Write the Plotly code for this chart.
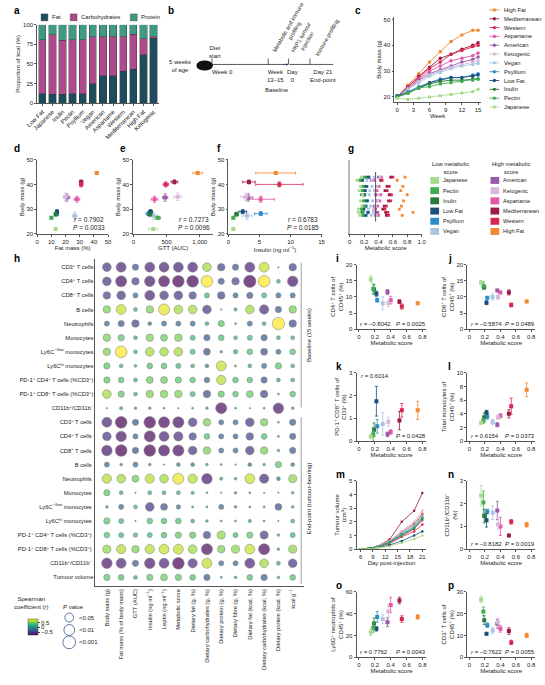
import plotly.graph_objects as go

W, H = 545, 685
FONT = "Liberation Sans"
def X(px): return px / W
def Y(py): return 1 - py / H

# ---------------- DATA ----------------
diets = ["High Fat", "Mediterranean", "Western", "Aspartame", "American", "Ketogenic",
         "Vegan", "Psyllium", "Low Fat", "Inulin", "Pectin", "Japanese"]
colors = {"High Fat": "#f5872e", "Mediterranean": "#9b1b45", "Western": "#d7264f",
          "Aspartame": "#e257a8", "American": "#9a5aa8", "Ketogenic": "#d9b8da",
          "Vegan": "#aac4e4", "Psyllium": "#2f8cc8", "Low Fat": "#1b4e7c",
          "Inulin": "#2a7a3a", "Pectin": "#41ad4f", "Japanese": "#a8da8c"}

# a
a_diets = ["Low Fat", "Japanese", "Inulin", "Pectin", "Psyllium", "Vegan", "American",
           "Aspartame", "Western", "Mediterranean", "High Fat", "Ketogenic"]
a_fat = [12, 11, 11, 12, 12, 25, 35, 35, 41, 43, 62, 83]
a_carb = [69, 76, 69, 69, 69, 60, 50, 50, 44, 45, 20, 2]
a_prot = [19, 13, 20, 19, 19, 15, 15, 15, 15, 12, 18, 15]

# c
weeks = [0, 2, 4, 6, 8, 10, 12, 14, 15]
c_mass = {
    "High Fat": [20, 24.5, 29, 33.5, 37.5, 41.5, 44, 45.8, 45.8],
    "Mediterranean": [20, 24, 28, 31.5, 35, 36.5, 38.5, 40, 41],
    "Western": [20, 24, 27.5, 31, 33.5, 36.5, 38, 39.5, 40],
    "Aspartame": [20, 23.5, 27, 30, 32, 34, 35, 36, 37],
    "American": [20, 23, 26.5, 29, 30.5, 32, 33.5, 34.5, 35.5],
    "Ketogenic": [20, 23, 26, 28.5, 30, 31.5, 32.5, 33.5, 34],
    "Vegan": [20, 23, 25.5, 28, 29.5, 31, 32, 32.5, 33],
    "Psyllium": [20.5, 22, 24, 25.5, 27, 27.5, 27.5, 28.5, 29],
    "Low Fat": [20.5, 21.5, 23.5, 25.5, 26.5, 27.5, 27.5, 28, 28.5],
    "Inulin": [20, 21.5, 23.5, 25, 26, 26.5, 26.5, 27, 27],
    "Pectin": [20, 21.5, 23.5, 24, 25, 25.5, 26, 26.5, 27],
    "Japanese": [19.5, 19, 19.5, 20, 20.5, 21, 21.5, 22, 23],
}

# per-diet values (order = diets)
body_mass = [44.6, 41, 40, 34, 34.7, 35, 27.3, 28.2, 29, 28, 26.5, 22]
fat_mass = [42, 31, 31, 28, 21, 20, 26.5, 14, 14, 13, 10, 13]
gtt = [970, 620, 490, 320, 480, 670, 300, 230, 260, 250, 370, 300]
gtt_err = [70, 50, 40, 50, 40, 60, 60, 40, 30, 30, 40, 70]
insulin = [7.6, 3.3, 8.2, 5.2, 3.2, 2.8, 3.0, 5.2, 2.3, 1.3, 0.8, 0.8]
insulin_err = [3.2, 1.0, 3.8, 2.2, 0.7, 0.8, 0.8, 1.0, 0.6, 0.3, 0.2, 0.2]
mscore = [0.74, 0.51, 0.54, 0.40, 0.36, 0.37, 0.30, 0.23, 0.22, 0.19, 0.18, 0.15]
i_cd4 = [8, 8.5, 7, 9, 11.5, 8, 8, 9, 11, 12.3, 12.5, 15.5]
i_err = [0.4, 0.6, 0.8, 1.2, 0.8, 1.0, 2.0, 0.6, 0.8, 1.5, 1.5, 1.0]
j_cd8 = [8.6, 11.4, 7.5, 11.4, 12, 10, 10, 9.7, 8.2, 13, 13.5, 14.5]
j_err = [0.4, 0.8, 0.6, 0.4, 0.4, 0.8, 1.0, 0.4, 0.6, 0.6, 1.2, 0.6]
k_pd1 = [1.35, 0.9, 1.35, 0.4, 0.3, 0.85, 0.75, 0.65, 1.75, 0.5, 0.3, 0.2]
k_err = [0.4, 0.4, 0.3, 0.1, 0.1, 0.2, 0.5, 0.3, 0.65, 0.3, 0.3, 0.1]
l_mono = [7.5, 4.0, 5.1, 3.7, 2.4, 3.5, 2.8, 3.6, 4.2, 3.5, 3.0, 2.7]
l_err = [1.0, 0.6, 1.2, 0.3, 0.3, 0.3, 0.4, 0.4, 0.3, 0.6, 0.4, 0.2]
n_cd11 = [1.07, 0.6, 1.2, 1.0, 1.7, 1.08, 1.6, 1.65, 1.27, 1.45, 2.05, 2.35]
n_err = [0.1, 0.05, 0.1, 0.4, 0.4, 0.2, 0.3, 0.1, 0.3, 0.3, 0.5, 0.45]
o_ly6g = [37, 52, 35, 48, 32, 42, 35, 37, 26, 31, 27, 23]
o_err = [2, 3, 3, 7, 4, 5, 4, 5, 2, 5, 4, 3]
p_cd3 = [10, 12, 6.8, 13, 15.3, 16, 12.2, 14.7, 10.8, 17, 21, 26.5]
p_err = [1, 1.5, 1, 1.5, 2, 2, 1.5, 1, 0.5, 2, 2, 1.5]

# g swarm (hand-read approximate positions)
g_x = {
    "Japanese": [0.10, 0.12, 0.13, 0.14, 0.15, 0.15, 0.16, 0.17, 0.18, 0.12],
    "Pectin": [0.14, 0.16, 0.17, 0.18, 0.18, 0.19, 0.20, 0.21, 0.16, 0.19],
    "Inulin": [0.15, 0.17, 0.18, 0.19, 0.20, 0.21, 0.22, 0.18, 0.20, 0.17],
    "Low Fat": [0.17, 0.19, 0.21, 0.22, 0.23, 0.24, 0.26, 0.22, 0.20, 0.25],
    "Psyllium": [0.18, 0.20, 0.22, 0.23, 0.24, 0.25, 0.27, 0.23, 0.21, 0.26],
    "Vegan": [0.24, 0.26, 0.28, 0.30, 0.31, 0.32, 0.34, 0.29, 0.27, 0.33],
    "American": [0.30, 0.33, 0.35, 0.36, 0.37, 0.38, 0.40, 0.34, 0.36, 0.39],
    "Ketogenic": [0.31, 0.33, 0.35, 0.37, 0.38, 0.39, 0.42, 0.36, 0.40, 0.34],
    "Aspartame": [0.34, 0.36, 0.38, 0.40, 0.41, 0.42, 0.44, 0.39, 0.43, 0.37],
    "Mediterranean": [0.43, 0.46, 0.49, 0.51, 0.52, 0.54, 0.57, 0.48, 0.55, 0.50],
    "Western": [0.45, 0.49, 0.52, 0.54, 0.55, 0.57, 0.60, 0.51, 0.58, 0.53],
    "High Fat": [0.66, 0.69, 0.71, 0.73, 0.74, 0.75, 0.77, 0.72, 0.80, 0.88],
}
g_y = [0.8, -0.6, 0.3, -0.9, 0.5, -0.2, 0.95, -0.45, 0.1, -0.75]

# m tumour volume
m_days = [6, 8, 10, 13, 16, 19, 21]
m_vol = {
    "High Fat": [0, 0.05, 0.2, 0.6, 1.3, 1.9, 2.6],
    "Mediterranean": [0, 0.05, 0.2, 0.7, 2.0, 2.8, 4.1],
    "Western": [0, 0.05, 0.15, 0.4, 0.9, 1.3, 1.8],
    "Aspartame": [0, 0.05, 0.15, 0.45, 1.0, 1.5, 2.1],
    "American": [0, 0.05, 0.2, 0.55, 1.2, 1.8, 2.5],
    "Ketogenic": [0, 0.05, 0.2, 0.6, 1.3, 2.0, 2.8],
    "Vegan": [0, 0.05, 0.15, 0.5, 1.1, 1.7, 2.4],
    "Psyllium": [0, 0.05, 0.15, 0.5, 1.1, 1.6, 2.3],
    "Low Fat": [0, 0.03, 0.1, 0.3, 0.6, 1.0, 1.3],
    "Inulin": [0, 0.05, 0.15, 0.5, 1.0, 1.5, 2.2],
    "Pectin": [0, 0.05, 0.15, 0.45, 1.0, 1.6, 2.3],
    "Japanese": [0, 0.02, 0.08, 0.2, 0.45, 0.75, 1.0],
}

# h
h_cols = ["Body mass (g)", "Fat mass (% of body mass)", "GTT (AUC)", "Insulin (ng ml<sup>−1</sup>)",
          "Leptin (ng ml<sup>−1</sup>)", "Metabolic score", "Dietary fat (g, %)",
          "Dietary carbohydrates (g, %)", "Dietary protein (g, %)", "Dietary fibre (g, %)",
          "Dietary fat (kcal, %)", "Dietary carbohydrates (kcal, %)", "Dietary protein (kcal, %)",
          "kcal g<sup>−1</sup>"]
h_rows = ["CD3<sup>+</sup> T cells", "CD4<sup>+</sup> T cells", "CD8<sup>+</sup> T cells", "B cells",
          "Neutrophils", "Monocytes", "Ly6C<sup>−/low</sup> monocytes", "Ly6C<sup>hi</sup> monocytes",
          "PD-1<sup>+</sup> CD4<sup>+</sup> T cells (%CD3<sup>+</sup>)",
          "PD-1<sup>+</sup> CD8<sup>+</sup> T cells (%CD3<sup>+</sup>)", "CD11b<sup>+</sup>/CD11b<sup>−</sup>",
          "CD3<sup>+</sup> T cells ", "CD4<sup>+</sup> T cells ", "CD8<sup>+</sup> T cells ", "B cells ",
          "Neutrophils ", "Monocytes ", "Ly6C<sup>−/low</sup> monocytes ", "Ly6C<sup>hi</sup> monocytes ",
          "PD-1<sup>+</sup> CD4<sup>+</sup> T cells (%CD3<sup>+</sup>) ",
          "PD-1<sup>+</sup> CD8<sup>+</sup> T cells (%CD3<sup>+</sup>) ", "CD11b<sup>+</sup>/CD11b<sup>−</sup> ",
          "Tumour volume"]
h_r = [
    [-0.6, -0.7, -0.4, -0.7, -0.7, -0.7, -0.7, 0.6, -0.5, -0.4, -0.7, 0.7, 0.0, -0.5],
    [-0.6, -0.8, -0.5, -0.75, -0.8, -0.85, -0.85, 0.85, -0.4, -0.5, -0.9, 0.85, 0.2, -0.75],
    [-0.5, -0.6, -0.3, -0.7, -0.6, -0.6, -0.5, 0.3, -0.5, -0.3, -0.4, 0.3, -0.3, -0.3],
    [0.5, 0.7, 0.2, 0.5, 0.8, 0.6, 0.6, -0.6, 0.0, 0.15, 0.6, -0.65, -0.4, 0.5],
    [-0.3, -0.4, -0.5, -0.2, -0.3, -0.3, -0.3, 0.2, 0.4, 0.05, -0.3, 0.2, 0.9, -0.5],
    [0.5, 0.4, 0.2, 0.5, 0.45, 0.5, 0.3, -0.4, 0.35, 0.2, 0.3, -0.4, 0.2, 0.2],
    [0.5, 0.85, 0.2, 0.6, 0.6, 0.6, 0.3, -0.45, 0.1, 0.25, 0.35, -0.45, -0.3, 0.35],
    [0.4, 0.2, 0.1, 0.35, 0.35, 0.3, 0.2, -0.2, 0.7, 0.05, 0.2, -0.3, 0.4, 0.2],
    [0.4, 0.35, 0.2, 0.45, 0.45, 0.4, 0.35, -0.35, 0.65, 0.35, 0.35, -0.4, 0.2, 0.2],
    [0.6, 0.4, 0.2, 0.5, 0.5, 0.5, 0.3, -0.5, 0.4, 0.35, 0.45, -0.5, 0.05, 0.35],
    [0.0, 0.15, 0.1, 0.1, 0.05, 0.0, 0.05, 0.1, -0.8, 0.05, 0.0, 0.05, -0.75, 0.1],
    [-0.7, -0.85, -0.4, -0.85, -0.8, -0.8, -0.6, 0.5, -0.3, -0.3, -0.6, 0.5, 0.05, -0.4],
    [-0.6, -0.75, -0.3, -0.8, -0.7, -0.65, -0.5, 0.35, -0.3, -0.3, -0.5, 0.35, 0.05, -0.4],
    [-0.75, -0.85, -0.4, -0.85, -0.8, -0.8, -0.6, 0.5, -0.3, -0.3, -0.6, 0.5, 0.1, -0.4],
    [-0.3, -0.1, -0.3, -0.1, 0.0, -0.2, -0.2, 0.1, 0.05, 0.0, -0.2, 0.1, 0.4, -0.2],
    [0.65, 0.6, 0.45, 0.65, 0.6, 0.8, 0.65, -0.75, 0.15, 0.1, 0.7, -0.65, -0.2, 0.55],
    [0.4, 0.2, 0.0, 0.2, 0.2, 0.2, 0.15, 0.05, 0.0, -0.1, 0.05, 0.0, 0.0, 0.1],
    [0.1, -0.3, 0.2, -0.6, -0.45, -0.25, 0.05, 0.05, -0.3, -0.1, 0.05, 0.05, -0.45, 0.1],
    [0.4, 0.3, 0.0, 0.35, 0.35, 0.35, 0.2, 0.1, 0.05, 0.05, 0.15, 0.05, 0.0, 0.2],
    [0.35, 0.3, 0.25, 0.3, 0.35, 0.4, 0.4, -0.5, 0.55, 0.3, 0.4, -0.55, 0.1, 0.3],
    [0.55, 0.65, 0.5, 0.65, 0.7, 0.7, 0.6, -0.8, 0.5, 0.55, 0.7, -0.8, 0.1, 0.55],
    [-0.75, -0.7, -0.4, -0.75, -0.7, -0.85, -0.65, 0.7, -0.3, -0.3, -0.7, 0.6, 0.2, -0.6],
    [0.4, 0.35, 0.2, 0.4, 0.45, 0.4, 0.35, -0.4, 0.05, 0.1, 0.35, -0.4, 0.1, 0.35],
]

# ---------------- FIGURE ----------------
fig = go.Figure()
layout = dict(width=W, height=H, margin=dict(l=0, r=0, t=0, b=0), plot_bgcolor="white",
              paper_bgcolor="white", font=dict(family=FONT, size=6, color="#222"),
              showlegend=False)
annots, shapes = [], []
TF = dict(family=FONT, size=6, color="#222")
n_ax = [0]

def akey(ref, letter):
    return letter + "axis" + ref[1:]

def axes(x0, x1, y0, y1, xr, yr, xtick=None, ytick=None, xtitle="", ytitle="", xticktext=None):
    n_ax[0] += 1
    n = n_ax[0]
    sfx = str(n) if n > 1 else ""
    common = dict(showline=True, linecolor="#555", linewidth=0.8, ticks="outside", ticklen=2,
                  tickcolor="#555", showgrid=False, zeroline=False, tickfont=TF,
                  title_font=TF, title_standoff=1)
    xa = dict(common, domain=[X(x0), X(x1)], anchor="y" + sfx, range=xr, title_text=xtitle)
    ya = dict(common, domain=[Y(y1), Y(y0)], anchor="x" + sfx, range=yr, title_text=ytitle)
    if xtick is not None:
        xa.update(tickvals=xtick)
        if xticktext is not None:
            xa.update(ticktext=xticktext)
    if ytick is not None:
        ya.update(tickvals=ytick)
    layout["xaxis" + sfx] = xa
    layout["yaxis" + sfx] = ya
    return "x" + sfx, "y" + sfx

def label(txt, px, py):
    annots.append(dict(text=f"<b>{txt}</b>", x=X(px), y=Y(py), xref="paper", yref="paper",
                       showarrow=False, xanchor="left", yanchor="top",
                       font=dict(family=FONT, size=10, color="black")))

def note(txt, px, py, xa="left", ya="middle", size=6, angle=0):
    annots.append(dict(text=txt, x=X(px), y=Y(py), xref="paper", yref="paper", showarrow=False,
                       xanchor=xa, yanchor=ya, textangle=angle,
                       font=dict(family=FONT, size=size, color="#222")))

# ---- a ----
xa_, ya_ = axes(27, 152, 22, 101, None, [0, 100], ytick=[0, 25, 50, 75, 100],
                ytitle="Proportion of kcal (%)")
a_series = [("Fat", a_fat, "#1d4d5c", 31), ("Carbohydrates", a_carb, "#ad4a8c", 61),
            ("Protein", a_prot, "#3f9a83", 123)]
for name, vals, col, lx in a_series:
    fig.add_bar(x=a_diets, y=vals, name=name, marker=dict(color=col, line=dict(color="#333", width=0.4)),
                xaxis=xa_, yaxis=ya_, width=0.72)
    shapes.append(dict(type="rect", xref="paper", yref="paper", x0=X(lx), x1=X(lx + 7), y0=Y(18),
                       y1=Y(11), fillcolor=col, line=dict(color="#333", width=0.4)))
    note(name, lx + 9, 14.5, size=6)
layout["barmode"] = "stack"
layout["xaxis"].update(type="category", tickangle=-45)
layout["xaxis"].pop("range", None)
label("a", 1, 0)

# ---- b (schematic) ----
label("b", 160, 0)
LN = dict(color="#333", width=0.8)
for (x0, x1, y0, y1) in [(207, 283, 62, 62), (287, 332, 62, 62), (207, 207, 56, 62),
                         (265, 265, 56, 62), (286, 286, 56, 62), (308, 308, 56, 62)]:
    shapes.append(dict(type="line", xref="paper", yref="paper", x0=X(x0), x1=X(x1), y0=Y(y0), y1=Y(y1), line=LN))
shapes.append(dict(type="circle", xref="paper", yref="paper", x0=X(192), x1=X(207), y0=Y(67), y1=Y(59),
                   fillcolor="#111", line=dict(color="#111")))
annots.append(dict(x=X(286), y=Y(62), ax=-7, ay=0, xref="paper", yref="paper", axref="pixel",
                   ayref="pixel", showarrow=True, arrowhead=2, arrowsize=0.6, arrowwidth=0.8, text=""))
note("5 weeks<br>of age", 188, 64, xa="right")
note("Diet<br>start", 202, 49)
note("Week 0", 205, 70)
note("Week<br>13–15", 262, 74)
note("Baseline", 260, 88)
note("Day<br>0", 282, 74)
note("Day 21<br>End-point", 306, 74)
note("Metabolic and immune<br>profiling", 265, 57, xa="left", ya="bottom", size=5.6, angle=-60)
note("HKP1 tumour<br>injection", 285, 57, xa="left", ya="bottom", size=5.6, angle=-60)
note("Immune profiling", 309, 57, xa="left", ya="bottom", size=5.6, angle=-60)

# ---- c ----
xc, yc = axes(395, 484, 14, 100, [-0.5, 15.5], [18, 51], xtick=[0, 3, 6, 9, 12, 15],
              ytick=[20, 30, 40, 50], xtitle="Week", ytitle="Body mass (g)")
for d in diets:
    fig.add_scatter(x=weeks, y=c_mass[d], mode="lines+markers", name=d, xaxis=xc, yaxis=yc,
                    line=dict(color=colors[d], width=0.9), marker=dict(color=colors[d], size=3.5))
for k, d in enumerate(diets):
    yy = 7 + k * 8.9
    shapes.append(dict(type="line", xref="paper", yref="paper", x0=X(493), x1=X(503), y0=Y(yy), y1=Y(yy),
                       line=dict(color=colors[d], width=0.9)))
    shapes.append(dict(type="circle", xref="paper", yref="paper", x0=X(496.3), x1=X(499.7), y0=Y(yy + 1.7),
                       y1=Y(yy - 1.7), fillcolor=colors[d], line=dict(width=0)))
    note(d, 506, yy, size=5.8)
label("c", 352, 0)

# ---- d, e, f ----
def scat(xref, yref, xs, ys, xerr=None, yerr=None):
    for k, d in enumerate(diets):
        kw = {}
        if xerr:
            kw["error_x"] = dict(array=[xerr[k]], color=colors[d], thickness=0.8, width=1.5)
        if yerr:
            kw["error_y"] = dict(array=[yerr[k]], color=colors[d], thickness=0.8, width=1.5)
        fig.add_scatter(x=[xs[k]], y=[ys[k]], mode="markers", xaxis=xref, yaxis=yref,
                        marker=dict(color=colors[d], size=4, symbol="square"), **kw)

bm_err = [0.5, 0.8, 1.0, 1.2, 1.5, 1.5, 1.5, 0.8, 0.8, 0.8, 0.5, 0.4]
fm_err = [0.8, 1.2, 1.2, 2, 2, 1.5, 1.5, 0.8, 0.8, 0.8, 0.6, 0.5]
xd, yd = axes(27, 100, 158, 233, [0, 50], [20, 50], xtick=[0, 10, 20, 30, 40, 50], ytick=[20, 30, 40, 50],
              xtitle="Fat mass (%)", ytitle="Body mass (g)")
scat(xd, yd, fat_mass, body_mass, fm_err, bm_err)
note("<i>r</i> = 0.7902<br><i>P</i> = 0.0033", 99, 222, xa="right", size=6.5)
label("d", 1, 139)
xe, ye = axes(126, 208, 158, 233, [0, 1200], [20, 50], xtick=[0, 500, 1000], ytick=[20, 30, 40, 50],
              xticktext=["0", "500", "1,000"], xtitle="GTT (AUC)", ytitle="Body mass (g)")
scat(xe, ye, gtt, body_mass, gtt_err, bm_err)
note("<i>r</i> = 0.7273<br><i>P</i> = 0.0096", 207, 222, xa="right", size=6.5)
label("e", 110, 139)
xf, yf = axes(224, 320, 158, 233, [0, 15], [20, 50], xtick=[0, 5, 10, 15], ytick=[20, 30, 40, 50],
              xtitle="Insulin (ng ml<sup>−1</sup>)", ytitle="Body mass (g)")
scat(xf, yf, insulin, body_mass, insulin_err, bm_err)
note("<i>r</i> = 0.6783<br><i>P</i> = 0.0185", 319, 222, xa="right", size=6.5)
label("f", 210, 139)

# ---- g ----
xg, yg = axes(349, 423, 158, 233, [0, 1], [-1.8, 1.8], xtick=[0, 0.2, 0.4, 0.6, 0.8, 1.0],
              xticktext=["0", "0.2", "0.4", "0.6", "0.8", "1.0"], xtitle="Metabolic score")
layout[akey(yg, "y")].update(showticklabels=False, ticks="", linecolor="#bbb", linewidth=2)
for d in diets:
    fig.add_scatter(x=g_x[d], y=g_y, mode="markers", xaxis=xg, yaxis=yg,
                    marker=dict(color=colors[d], size=2.8, symbol="square"))
fig.add_scatter(x=[0.36, 0.36], y=[-1.2, 1.2], mode="lines", xaxis=xg, yaxis=yg,
                line=dict(color="#555", width=1))
label("g", 345, 139)
low = ["Japanese", "Pectin", "Inulin", "Low Fat", "Psyllium", "Vegan"]
high = ["American", "Ketogenic", "Aspartame", "Mediterranean", "Western", "High Fat"]
note("Low metabolic<br>score", 432, 166, size=5.8)
note("High metabolic<br>score", 494, 166, size=5.8)
for col_x, grp in [(432, low), (494, high)]:
    for k, d in enumerate(grp):
        yy = 179 + k * 10.3
        shapes.append(dict(type="rect", xref="paper", yref="paper", x0=X(col_x), x1=X(col_x + 9),
                           y0=Y(yy + 3.5), y1=Y(yy - 3.5), fillcolor=colors[d], line=dict(width=0)))
        note(d, col_x + 11, yy, size=5.6)

# ---- h ----
nr, nc = len(h_rows), len(h_cols)
xh, yh = axes(87, 302, 258, 588, [-0.8, nc - 0.2], [nr - 0.4, -0.6], xtick=list(range(nc)),
              ytick=list(range(nr)), xticktext=h_cols)
layout[akey(xh, "x")].update(tickangle=-90, ticks="", tickfont=dict(family=FONT, size=5.8))
layout[akey(yh, "y")].update(ticktext=h_rows, ticks="", tickfont=dict(family=FONT, size=5.8))
hx, hy, hc, hs = [], [], [], []
for ri in range(nr):
    for ci in range(nc):
        r = h_r[ri][ci]
        hx.append(ci); hy.append(ri); hc.append(r); hs.append(1.5 + 12 * abs(r))
fig.add_scatter(x=hx, y=hy, mode="markers", xaxis=xh, yaxis=yh,
                marker=dict(color=hc, size=hs, colorscale="Viridis", cmin=-0.85, cmax=0.85,
                            line=dict(color="#444", width=0.5),
                            colorbar=dict(x=X(7), y=Y(648), xanchor="left", yanchor="bottom",
                                          len=36 / H, lenmode="fraction", thickness=10,
                                          tickvals=[-0.5, 0, 0.5], ticktext=["−0.5", "0", "0.5"],
                                          tickfont=dict(family=FONT, size=6), outlinewidth=0.5,
                                          ticklen=2)))
label("h", 1, 250)
shapes += [
    dict(type="line", xref="paper", yref="paper", x0=X(299), x1=X(299), y0=Y(262), y1=Y(408), line=dict(color="#888", width=0.8)),
    dict(type="line", xref="paper", yref="paper", x0=X(299), x1=X(299), y0=Y(418), y1=Y(586), line=dict(color="#888", width=0.8)),
]
note("Baseline (15 weeks)", 307, 335, xa="center", angle=-90)
note("End-point (tumour-bearing)", 307, 500, xa="center", angle=-90)
note("Spearman<br>coefficient (<i>r</i>)", 1, 605, size=6)
note("<i>P</i> value", 52, 609, size=6)
for k, (dia, lab) in enumerate([(9, "<0.05"), (11, "<0.01"), (13, "<0.001")]):
    cy = 620 + k * 12.5
    shapes.append(dict(type="circle", xref="paper", yref="paper", x0=X(60 - dia / 2), x1=X(60 + dia / 2),
                       y0=Y(cy + dia / 2), y1=Y(cy - dia / 2), line=dict(color="#35568a", width=0.8)))
    note(lab, 68, cy, size=6)

# ---- i..p ----
ms_ticks = [0, 0.2, 0.4, 0.6, 0.8]
ms_text = ["0", "0.2", "0.4", "0.6", "0.8"]
def ms_panel(x0, x1, y0, y1, yr, yt, ys, yerr, ytitle, rtxt, ptxt, lab, lx, ly, rtop=False):
    xr, yr_ = axes(x0, x1, y0, y1, [-0.03, 0.85], yr, xtick=ms_ticks, xticktext=ms_text, ytick=yt,
                   xtitle="Metabolic score", ytitle=ytitle)
    scat(xr, yr_, mscore, ys, None, yerr)
    if rtop:
        note(rtxt, x0 + 3, y0 + 3, size=6)
    else:
        note(rtxt, x0 + 2, y1 - 5, size=6)
    note(ptxt, x1 + 2, y1 - 5, xa="right", size=6)
    label(lab, lx, ly)

ms_panel(356, 428, 264, 329, [0, 20], [0, 5, 10, 15, 20], i_cd4, i_err, "CD4<sup>+</sup> T cells of<br>CD45<sup>+</sup> (%)",
         "<i>r</i> = −0.8042", "<i>P</i> = 0.0025", "i", 333, 250)
ms_panel(470, 540, 264, 329, [0, 20], [0, 5, 10, 15, 20], j_cd8, j_err, "CD8<sup>+</sup> T cells of<br>CD45<sup>+</sup> (%)",
         "<i>r</i> = −0.5874", "<i>P</i> = 0.0489", "j", 448, 250)
ms_panel(356, 428, 373, 442, [0, 3], [0, 1, 2, 3], k_pd1, k_err, "PD-1<sup>+</sup> CD8<sup>+</sup> T cells of<br>CD3<sup>+</sup> (%)",
         "<i>r</i> = 0.6014", "<i>P</i> = 0.0428", "k", 333, 359, rtop=True)
ms_panel(470, 540, 373, 442, [0, 10], [0, 2, 4, 6, 8, 10], l_mono, l_err, "Total monocytes of<br>CD45<sup>+</sup> (%)",
         "<i>r</i> = 0.6154", "<i>P</i> = 0.0373", "l", 448, 359)
ms_panel(470, 540, 482, 551, [0, 3], [0, 1, 2, 3], n_cd11, n_err, "CD11b<sup>+</sup>/CD11b<sup>−</sup><br>(%)",
         "<i>r</i> = −0.8182", "<i>P</i> = 0.0019", "n", 448, 468)
ms_panel(356, 428, 594, 660, [0, 60], [0, 20, 40, 60], o_ly6g, o_err, "Ly6G<sup>+</sup> neutrophils of<br>CD45<sup>+</sup> (%)",
         "<i>r</i> = 0.7762", "<i>P</i> = 0.0043", "o", 333, 580)
ms_panel(470, 540, 594, 660, [0, 30], [0, 10, 20, 30], p_cd3, p_err, "CD3<sup>+</sup> T cells of<br>CD45<sup>+</sup> (%)",
         "<i>r</i> = −0.7622", "<i>P</i> = 0.0055", "p", 448, 580)

# m
xm, ym = axes(356, 428, 482, 551, [5, 22], [0, 5], xtick=[6, 9, 12, 15, 18, 21], ytick=[0, 1, 2, 3, 4, 5],
              xtitle="Day post-injection", ytitle="Tumour volume<br>(cm<sup>3</sup>)")
for d in diets:
    fig.add_scatter(x=m_days, y=m_vol[d], mode="lines+markers", xaxis=xm, yaxis=ym,
                    line=dict(color=colors[d], width=0.8), marker=dict(color=colors[d], size=2.5))
label("m", 333, 468)

layout["annotations"] = annots
layout["shapes"] = shapes
fig.update_layout(**layout)
fig.write_html("out.html", config={"displayModeBar": False},
               post_script="document.body.style.margin='0';document.body.style.overflow='hidden';")
